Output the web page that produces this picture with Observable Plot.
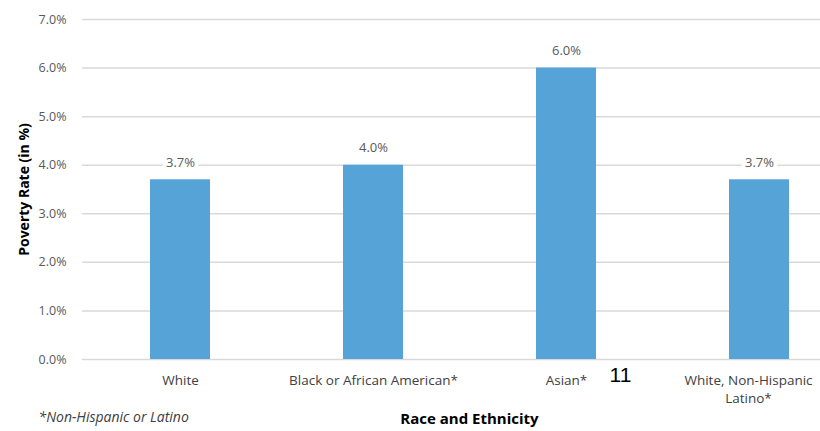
<!DOCTYPE html>
<html>
<head>
<meta charset="utf-8">
<script src="https://cdn.jsdelivr.net/npm/d3@7"></script>
<script src="https://cdn.jsdelivr.net/npm/@observablehq/plot@0.6"></script>
<style>
  html, body { margin: 0; padding: 0; background: #fff; }
  #chart svg { display: block; }
</style>
</head>
<body>
<div id="chart"></div>
<script>
// Poverty rate by race and ethnicity
const categories = ["White", "Black or African American*", "Asian*", "White, Non-Hispanic\nLatino*"];
const rates = [3.7, 4.0, 6.0, 3.7];
const yTicks = [0, 1, 2, 3, 4, 5, 6, 7];
const yTitle = "Poverty Rate (in %)";
const xTitle = "Race and Ethnicity";
const footnote = "*Non-Hispanic or Latino";
const pageNumber = "11";

const data = categories.map((category, i) => ({category, rate: rates[i]}));
const pct = d => d.toFixed(1) + "%";

// shared style for the category labels under the bars
const xAxisStyle = {tickSize: 0, tickPadding: 13, lineHeight: 1.3, label: null, fill: "#404040", fontSize: 13.5};

const chart = Plot.plot({
  width: 820,
  height: 431,
  marginTop: 19,
  marginBottom: 72,
  marginLeft: 82,
  marginRight: -36,
  style: {fontFamily: "'Open Sans', sans-serif", fontSize: "12px", color: "#595959", background: "#fff"},
  x: {domain: categories, paddingInner: 0.69, paddingOuter: 0.345, label: null},
  y: {domain: [0, 7], label: null},
  marks: [
    Plot.gridY(yTicks, {stroke: "#d9d9d9", strokeOpacity: 1, strokeWidth: 1.5}),
    Plot.barY(data, {x: "category", y: "rate", fill: "#55a3d7"}),
    Plot.text(data, {
      x: "category", y: "rate", text: d => pct(d.rate),
      dy: -17, fill: "#595959", stroke: "#fff", strokeWidth: 8, fontSize: 13
    }),
    Plot.axisY(yTicks, {tickSize: 0, tickPadding: 16, tickFormat: pct, label: null, fill: "#595959", fontSize: 12.5}),
    Plot.axisX(categories.slice(0, 3), xAxisStyle),
    // the last label is nudged left so it stays inside the page edge
    Plot.axisX(categories.slice(3), {...xAxisStyle, dx: -11}),
    Plot.text([yTitle], {frameAnchor: "left", textAnchor: "middle", dx: -58, rotate: -90, fontWeight: "bold", fill: "#000", fontSize: 14}),
    Plot.text([xTitle], {frameAnchor: "bottom", dy: 64, fontWeight: "bold", fill: "#000", fontSize: 15}),
    Plot.text([footnote], {frameAnchor: "bottom-left", dx: -44, dy: 62, textAnchor: "start", fontStyle: "italic", fill: "#404040", fontSize: 14}),
    Plot.text([pageNumber], {frameAnchor: "bottom-right", textAnchor: "middle", dx: -236, dy: 22, fontFamily: "'Liberation Sans', Arial, sans-serif", fill: "#000", fontSize: 21})
  ]
});

document.getElementById("chart").append(chart);
</script>
</body>
</html>
